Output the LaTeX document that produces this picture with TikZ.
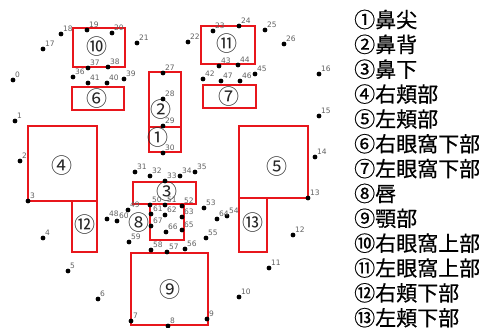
\documentclass[tikz,border=0pt]{standalone}
\usepackage{fontspec}
\setmainfont{DejaVu Sans}
\newfontfamily\cjk{Noto Sans CJK JP}
\newfontfamily\cjkleg[FakeBold=0.5]{Noto Sans CJK JP}
\definecolor{boxred}{RGB}{232,22,28}
\begin{document}
\begin{tikzpicture}[x=1pt,y=-1pt,
  dot/.style={circle,fill=black,inner sep=0pt,minimum size=4.8pt},
  num/.style={font=\fontsize{7.5}{8}\selectfont, text=black!62, inner sep=0pt, anchor=south west},
  region/.style={draw=boxred, line width=1.6pt},
  cnum/.style={font=\cjk\fontsize{21}{21}\selectfont, text=black!85, inner sep=0pt},
  legend/.style={font=\cjkleg\fontsize{21}{25}\selectfont, inner sep=0pt, anchor=west}]
\useasboundingbox (0,0) rectangle (479,327);
% region boxes
\draw[region] (73,28) rectangle (125,67);   % 10
\draw[region] (72,87) rectangle (124,110);  % 6
\draw[region] (201,26) rectangle (255,64);  % 11
\draw[region] (203,85) rectangle (256,108); % 7
\draw[region] (149,72) rectangle (181,127); % 2
\draw[region] (149,127) rectangle (181,152);% 1
\draw[region] (28,126) rectangle (97,201);  % 4
\draw[region] (72,201) rectangle (97,252);  % 12
\draw[region] (239,126) rectangle (308,198);% 5
\draw[region] (239,198) rectangle (267,252);% 13
\draw[region] (133,182) rectangle (196,204);% 3
\draw[region] (150,204) rectangle (184,240);% 8
\draw[region] (131,253) rectangle (208,325);% 9
% circled region numbers
\node[cnum] (r10) at (97,47) {⑩};
\node[cnum] (r6) at (97,99) {⑥};
\node[cnum] (r11) at (227,44) {⑪};
\node[cnum] (r7) at (229,97) {⑦};
\node[cnum] (r2) at (161,110) {②};
\node[cnum] (r1) at (158,138) {①};
\node[cnum] (r4) at (62,166) {④};
\node[cnum] (r5) at (277,167) {⑤};
\node[cnum] (r3) at (167,192) {③};
\node[cnum] (r8) at (139,223) {⑧};
\node[cnum] (r9) at (170,290) {⑨};
\node[cnum] (r12) at (85,225) {⑫};
\node[cnum] (r13) at (253,223) {⑬};
% landmarks
\foreach \n/\x/\y in {0/13/80,1/15/121,2/20/161,3/28/201,4/43/238,5/68/271,6/98/299,7/131/321,
  8/168/326,9/207/319,10/239/297,11/269/268,12/293/235,13/308/198,14/315/157,15/319/116,16/319/74,
  17/43/49,18/61/34,19/87/30,20/112/33,21/137/43,22/188/42,23/213/31,24/239/26,25/265/30,26/284/44,
  27/163/73,28/163/99,29/163/126,30/163/153,31/135/172,32/150/176,33/165/181,34/180/176,35/195/172,
  36/73/77,37/88/68,38/108/67,39/124/79,40/107/83,41/88/83,
  42/203/79,43/219/66,44/238/65,45/255/74,46/240/81,47/221/81,
  48/107/219,49/128/210,50/150/205,51/165/205,52/182/206,53/204/208,54/227/216,55/206/238,
  56/185/249,57/167/252,58/151/250,59/129/242,
  60/117/221,61/151/214,62/165/215,63/182/217,64/217/219,65/182/230,66/166/232,67/151/226}{
  \node[dot] (p\n) at (\x,\y) {};
  \node[num] (l\n) at ([shift={(1.8,-2.2)}]p\n.center) {\n};
}
% legend
\foreach \i/\t in {0/①鼻尖,1/②鼻背,2/③鼻下,3/④右頬部,4/⑤左頬部,5/⑥右眼窩下部,6/⑦左眼窩下部,
  7/⑧唇,8/⑨顎部,9/⑩右眼窩上部,10/⑪左眼窩上部,11/⑫右頬下部,12/⑬左頬下部}{
  \node[legend] (leg\i) at (354,{19.5+24.85*\i}) {\t};
}
\end{tikzpicture}
\end{document}
